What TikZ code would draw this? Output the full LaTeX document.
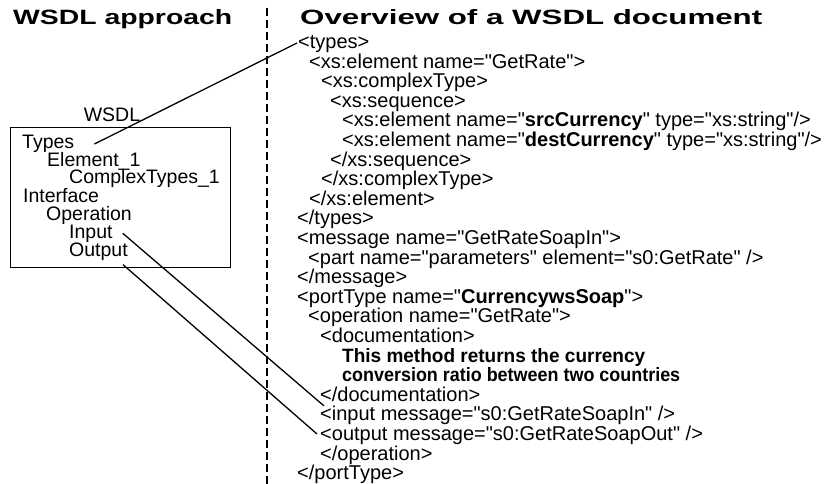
\documentclass[tikz,border=0pt]{standalone}
\usepackage{fontspec}
\setmainfont{Liberation Sans}[Ligatures=TeXOff]
\begin{document}
\begin{tikzpicture}[x=1pt,y=-1pt,
  code/.style={anchor=base west,inner sep=0pt,font=\fontsize{20}{20}\selectfont},
  boxtxt/.style={anchor=base west,inner sep=0pt,font=\fontsize{19.5}{19.5}\selectfont},
  link/.style={line width=1.3pt},
  frame/.style={draw,line width=1.3pt,inner sep=0pt,anchor=north west},
  divider/.style={line width=1.3pt,dash pattern=on 8pt off 4pt}]
\useasboundingbox (0,0) rectangle (835,484);
% titles
\node[anchor=base west,inner sep=0pt] (t1) at (13,25) {\resizebox{219pt}{15pt}{\bfseries WSDL approach}};
\node[anchor=base west,inner sep=0pt] (t2) at (300,25) {\resizebox{462pt}{15pt}{\bfseries Overview of a WSDL document}};
% divider
\coordinate (dtop) at (267,8);
\coordinate (dbot) at (267,484);
\draw[divider] (dtop) -- (dbot);
% left box
\node[anchor=base,inner sep=0pt,font=\fontsize{19.5}{19.5}\selectfont] (wsdl) at (112,121.7) {WSDL};
\node[frame,minimum width=220pt,minimum height=140pt] (box) at (10,127) {};
\node[boxtxt] (ty) at (22,148) {Types};
\node[boxtxt] (el) at (47,166) {Element\_1};
\node[boxtxt] (ct) at (69,183.5) {ComplexTypes\_1};
\node[boxtxt] (itf) at (23,202) {Interface};
\node[boxtxt] (op) at (46,220) {Operation};
\node[boxtxt] (in) at (69,238.3) {Input};
\node[boxtxt] (out) at (69,256.6) {Output};
% code
\node[code] (l0) at (298,48.5) {<types>};
\node[code] (l1) at (309,68.1) {<xs:element name="GetRate">};
\node[code] (l2) at (321,87.7) {<xs:complexType>};
\node[code] (l3) at (330,107.3) {<xs:sequence>};
\node[code] (l4) at (342,126.9) {<xs:element name="\textbf{srcCurrency}" type="xs:string"/>};
\node[code] (l5) at (342,146.5) {<xs:element name="\textbf{destCurrency}" type="xs:string"/>};
\node[code] (l6) at (330,166.1) {</xs:sequence>};
\node[code] (l7) at (321,185.7) {</xs:complexType>};
\node[code] (l8) at (309,205.3) {</xs:element>};
\node[code] (l9) at (297,224.9) {</types>};
\node[code] (l10) at (297,244.5) {<message name="GetRateSoapIn">};
\node[code] (l11) at (308,264.1) {<part name="parameters" element="s0:GetRate" />};
\node[code] (l12) at (297,283.7) {</message>};
\node[code] (l13) at (297,303.3) {<portType name="\textbf{CurrencywsSoap}">};
\node[code] (l14) at (308,322.9) {<operation name="GetRate">};
\node[code] (l15) at (320,342.5) {<documentation>};
\node[code] (l16) at (342,362.1) {\resizebox{303pt}{14pt}{\bfseries This method returns the currency}};
\node[code] (l17) at (342,381.7) {\resizebox{338pt}{14pt}{\bfseries conversion ratio between two countries}};
\node[code] (l18) at (320,401.3) {</documentation>};
\node[code] (l19) at (320,420.9) {<input message="s0:GetRateSoapIn" />};
\node[code] (l20) at (320,440.5) {<output message="s0:GetRateSoapOut" />};
\node[code] (l21) at (320,460.1) {</operation>};
\node[code] (l22) at (297,479.7) {</portType>};
% connectors
\draw[link] ([xshift=20pt,yshift=4pt]ty.base east) -- ([xshift=-1pt,yshift=5.5pt]l0.base west);
\draw[link] ([xshift=10pt,yshift=5pt]in.base east) -- ([xshift=4pt,yshift=15pt]l19.base west);
\draw[link] ([xshift=54pt,yshift=-8pt]out.base west) -- ([xshift=-3pt,yshift=6.5pt]l20.base west);
\end{tikzpicture}
\end{document}
